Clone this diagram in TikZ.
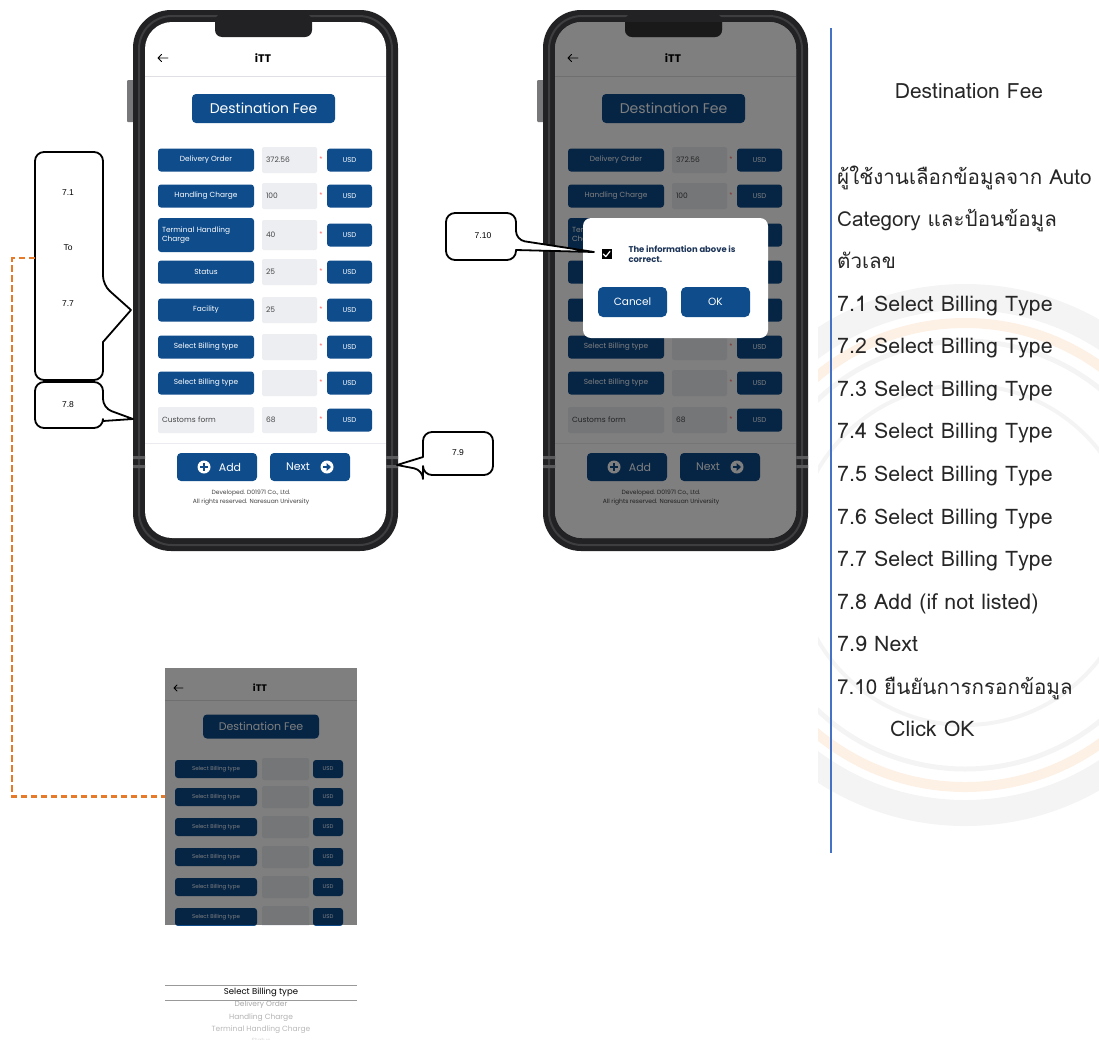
\documentclass[tikz,border=0pt]{standalone}
\usepackage{fontspec}
\setmainfont{Liberation Sans}
\newfontfamily\appfont{Poppins}
\newfontfamily\thaifont[Script=Thai]{Loma}
\usetikzlibrary{calc}
\newcommand\sz[1]{\fontsize{#1}{#1}\selectfont}

\definecolor{navy}{RGB}{14,76,140}
\definecolor{framegray}{RGB}{34,34,36}
\definecolor{framehi}{RGB}{62,62,64}
\definecolor{sidegray}{RGB}{120,120,122}
\definecolor{bandgray}{RGB}{90,90,92}
\definecolor{fieldgray}{RGB}{236,238,242}
\definecolor{rulegray}{RGB}{222,224,228}
\definecolor{valgray}{RGB}{70,70,70}
\definecolor{linkorange}{RGB}{230,122,40}
\definecolor{ruleblue}{RGB}{68,114,196}
\definecolor{dlgtext}{RGB}{28,52,88}
\definecolor{wmgray}{RGB}{244,244,244}
\definecolor{wmorange}{RGB}{253,240,229}

\tikzset{
  appbtn/.style={fill=navy, text=white, rounded corners=3, inner sep=0pt, font=\appfont},
  fieldbox/.style={fill=fieldgray, rounded corners=2, inner sep=4pt},
  callout/.style={draw=black, line width=1.8pt, fill=white, line join=round},
  calltext/.style={font=\sz{8.5}},
  notetext/.style={font=\thaifont\sz{21.4}, text=black!85, anchor=base west, inner sep=0pt},
  thainote/.style={notetext, font=\thaifont\sz{20.6}},
}

% phone housing with a white screen
\newcommand\phonebody{%
  \fill[sidegray, rounded corners=1] (127,80) rectangle (135,122);
  \fill[framegray, rounded corners=38] (133,10) rectangle (398,551);
  \draw[framehi, line width=2, rounded corners=33] (139,16) rectangle (392,545);
  \fill[white, rounded corners=27] (145,22) rectangle (386,538);
  \fill[framegray, rounded corners=7] (215,14) rectangle (312,37);
  \fill[bandgray] (133,456) rectangle (145,459) (386,456) rectangle (398,459)
                  (133,465) rectangle (145,468) (386,465) rectangle (398,468);
}

% the Destination Fee form; #1 is a prefix for node names
\newcommand\formscreen[1]{%
  \node[font=\appfont\bfseries\sz{11}] (#1itt) at (263,58) {iTT};
  \coordinate (#1back) at (158,58);
  \draw[line width=0.9, line cap=round, line join=round]
     (#1back) -- ++(10,0) (#1back) ++(3.6,-3.6) -- (#1back) -- ++(3.6,3.6);
  \draw[rulegray, line width=1] (145,76) -- (386,76);
  \node[appbtn, minimum width=143, minimum height=29, rounded corners=4,
        font=\appfont\sz{14}] (#1title) at (263.5,108.5) {Destination Fee};
  \foreach \y/\lab/\val [count=\i] in {160/Delivery Order/372.56, 196/Handling Charge/100,
        272/Status/25, 310/Facility/25, 347/Select Billing type/, 383/Select Billing type/} {
    \node[appbtn, minimum width=96, minimum height=23, font=\appfont\sz{7.4}] (#1lab\i) at (206,\y) {\lab};
    \node[fieldbox, minimum width=55, minimum height=26, text width=47, align=left,
          font=\appfont\sz{7.5}, text=valgray] (#1val\i) at (289.5,\y) {\val};
    \node[font=\sz{7}, text=red!65] (#1ast\i) at (321,\y-1) {*};
    \node[appbtn, minimum width=45, minimum height=23, font=\appfont\sz{7}] (#1usd\i) at (349.5,\y) {USD};
  }
  % two-line label row
  \node[appbtn, minimum width=96, minimum height=34, text width=88, align=left,
        font=\appfont\fontsize{7.4}{8.6}\selectfont] (#1labT) at (206,235) {Terminal Handling\\Charge};
  \node[fieldbox, minimum width=55, minimum height=30, text width=47, align=left,
        font=\appfont\sz{7.5}, text=valgray] (#1valT) at (289.5,235) {40};
  \node[font=\sz{7}, text=red!65] (#1astT) at (321,234) {*};
  \node[appbtn, minimum width=45, minimum height=23, font=\appfont\sz{7}] (#1usdT) at (349.5,235) {USD};
  % custom row
  \node[fieldbox, minimum width=96, minimum height=26, text width=88, align=left,
        font=\appfont\sz{7.5}, text=valgray] (#1labC) at (206,420) {Customs form};
  \node[fieldbox, minimum width=55, minimum height=26, text width=47, align=left,
        font=\appfont\sz{7.5}, text=valgray] (#1valC) at (289.5,420) {68};
  \node[font=\sz{7}, text=red!65] (#1astC) at (321,419) {*};
  \node[appbtn, minimum width=45, minimum height=23, font=\appfont\sz{7}] (#1usdC) at (349.5,420) {USD};
  \draw[rulegray!60, line width=0.8] (145,443) -- (386,443);
  % action buttons
  \node[appbtn, minimum width=80, minimum height=28, rounded corners=4] (#1add) at (217,467) {};
  \fill[white] (204,467) circle (6.5);
  \draw[navy, line width=1.6] (200.3,467) -- (207.7,467) (204,463.3) -- (204,470.7);
  \node[font=\appfont\sz{11}, text=white] (#1addtxt) at (230,467) {Add};
  \node[appbtn, minimum width=80, minimum height=28, rounded corners=4] (#1next) at (310,467) {};
  \node[font=\appfont\sz{11}, text=white] (#1nexttxt) at (298,467) {Next};
  \fill[white] (327,467) circle (6.5);
  \draw[navy, line width=1.8] (323,467) -- (328,467);
  \fill[navy] (326.5,463) -- (331,467) -- (326.5,471) -- cycle;
  \node[font=\appfont\fontsize{6}{8.4}\selectfont, text=black!75, align=center] (#1foot)
     at (251,497.5) {Developed. D01971 Co., Ltd.\\All rights reserved. Naresuan University};
}

\begin{document}
\begin{tikzpicture}[x=1pt, y=-1pt]
\useasboundingbox (0,0) rectangle (1099,1039);

% faint emblem behind the notes
\begin{scope}
  \clip (818,282) rectangle (1099,830);
  \draw[wmgray, line width=26] (965,555) circle (258);
  \draw[wmorange, line width=10] (965,555) circle (232);
  \draw[wmgray, line width=5] (965,555) circle (214);
  \draw[wmgray, line width=4] (965,555) circle (170);
\end{scope}

% ---------- first phone ----------
\phonebody
\formscreen{a}

% ---------- second phone with confirmation dialog ----------
\begin{scope}[xshift=410pt]
  \phonebody
  \formscreen{b}
  \fill[black, opacity=0.5, rounded corners=27] (145,22) rectangle (386,538);
  \fill[framegray, opacity=0.5, rounded corners=7] (215,14) rectangle (312,37);
\end{scope}
\node[fill=white, rounded corners=8, minimum width=185, minimum height=120, inner sep=0pt] (dialog) at (675.5,278) {};
\node[fill=black, minimum size=10, inner sep=0pt] (chk) at (606.5,254) {};
\draw[white, line width=1.2, line cap=round, line join=round] (603.3,254) -- (605.8,256.6) -- (610,251.3);
\node[font=\appfont\bfseries\fontsize{8.4}{10.5}\selectfont, text=dlgtext, align=left, anchor=west]
   (dlgmsg) at (625,254) {The information above is\\correct.};
\node[appbtn, minimum width=69, minimum height=30, rounded corners=5, font=\appfont\sz{10.5}] (cancel) at (632.5,302) {Cancel};
\node[appbtn, minimum width=69, minimum height=30, rounded corners=5, font=\appfont\sz{10.5}] (okbtn) at (715.5,302) {OK};

% ---------- billing type list screenshot ----------
\begin{scope}
  \clip (165,668) rectangle (357,925);
  \fill[white] (165,668) rectangle (357,925);
  \node[font=\appfont\bfseries\sz{9.5}] (citt) at (260,688) {iTT};
  \coordinate (cback) at (174,688);
  \draw[line width=0.8, line cap=round, line join=round]
     (cback) -- ++(9,0) (cback) ++(3.2,-3.2) -- (cback) -- ++(3.2,3.2);
  \draw[rulegray, line width=1] (165,700) -- (357,700);
  \node[appbtn, minimum width=116, minimum height=24, rounded corners=4, font=\appfont\sz{11}] (ctitle) at (261,726.5) {Destination Fee};
  \foreach \y [count=\i] in {769,797,827,857,887,917} {
    \node[appbtn, minimum width=82, minimum height=18, font=\appfont\sz{5.5}] (clab\i) at (216,\y) {Select Billing type};
    \node[fieldbox, minimum width=47, minimum height=22, inner sep=0pt] (cval\i) at (285.5,\y) {};
    \node[appbtn, minimum width=30, minimum height=18, font=\appfont\sz{5.5}] (cusd\i) at (328,\y) {USD};
  }
  \fill[black, opacity=0.5] (165,668) rectangle (357,925);
\end{scope}
\node[inner sep=0pt, minimum width=192, minimum height=257] (shot) at (261,796.5) {};

% picker wheel
\draw[black!40, line width=0.7] (165,985) -- (357,985) (165,1000) -- (357,1000);
\node[font=\appfont\sz{8.5}, text=black] (pk0) at (261,992) {Select Billing type};
\node[font=\appfont\sz{7.5}, text=black!35] (pk1) at (261,1005) {Delivery Order};
\node[font=\appfont\sz{7.5}, text=black!30] (pk2) at (261,1018) {Handling Charge};
\node[font=\appfont\sz{7.5}, text=black!28] (pk3) at (261,1030) {Terminal Handling Charge};
\node[font=\appfont\sz{6}, text=black!15] (pk4) at (261,1040) {Status};

% ---------- callouts ----------
\draw[callout, rounded corners=9] (35,152) -- (103,152) -- (103,285) [sharp corners] -- (131,310) -- (103,342)
   [rounded corners=9] -- (103,380) -- (35,380) -- cycle;
\node[calltext] (c71) at (68,193) {7.1};
\node[calltext] (cto) at (68,248) {To};
\node[calltext] (c77) at (68,304) {7.7};

\draw[callout, rounded corners=9] (35,382) -- (103,382) -- (103,408) [sharp corners] -- (133,419) -- (103,421)
   [rounded corners=9] -- (103,428) -- (35,428) -- cycle;
\node[calltext] (c78) at (68,405) {7.8};

\draw[callout, rounded corners=9] (423,432) -- (493,432) -- (493,475) -- (423,475) -- (423,470)
   [sharp corners] -- (397,465) -- (423,457) [rounded corners=9] -- cycle;
\node[calltext] (c79) at (458,453) {7.9};

\draw[callout, rounded corners=9] (446,213) -- (516,213) -- (516,240) [sharp corners] -- (594,252) -- (516,250)
   [rounded corners=9] -- (516,260) -- (446,260) -- cycle;
\node[calltext] (c710) at (483,236) {7.10};

% link from the 7.1--7.7 callout to the list screenshot
\coordinate (linkstart) at (35,258);
\draw[linkorange, line width=2.6, dash pattern=on 6.5pt off 3.5pt] (linkstart) -- (12,258) |- (shot.west);

% ---------- notes column ----------
\draw[ruleblue, line width=1.5] (831,28) -- (831,853);
\node[notetext, font=\thaifont\sz{21}, anchor=base] (ntitle) at (969,98) {Destination Fee};
\node[thainote] (n1) at (837,184) {ผู้ใช้งานเลือกข้อมูลจาก Auto};
\node[thainote] (n2) at (837,226) {Category และป้อนข้อมูล};
\node[thainote] (n3) at (837,268) {ตัวเลข};
\foreach \k in {1,...,7} {
  \node[notetext] (s\k) at (837,{311+42.6*(\k-1)}) {7.\k\ Select Billing Type};
}
\node[notetext] (s8) at (837,609) {7.8 Add (if not listed)};
\node[notetext] (s9) at (837,651) {7.9 Next};
\node[thainote] (s10) at (837,694) {7.10 ยืนยันการกรอกข้อมูล};
\node[notetext] (s11) at (890,736) {Click OK};
\end{tikzpicture}
\end{document}
